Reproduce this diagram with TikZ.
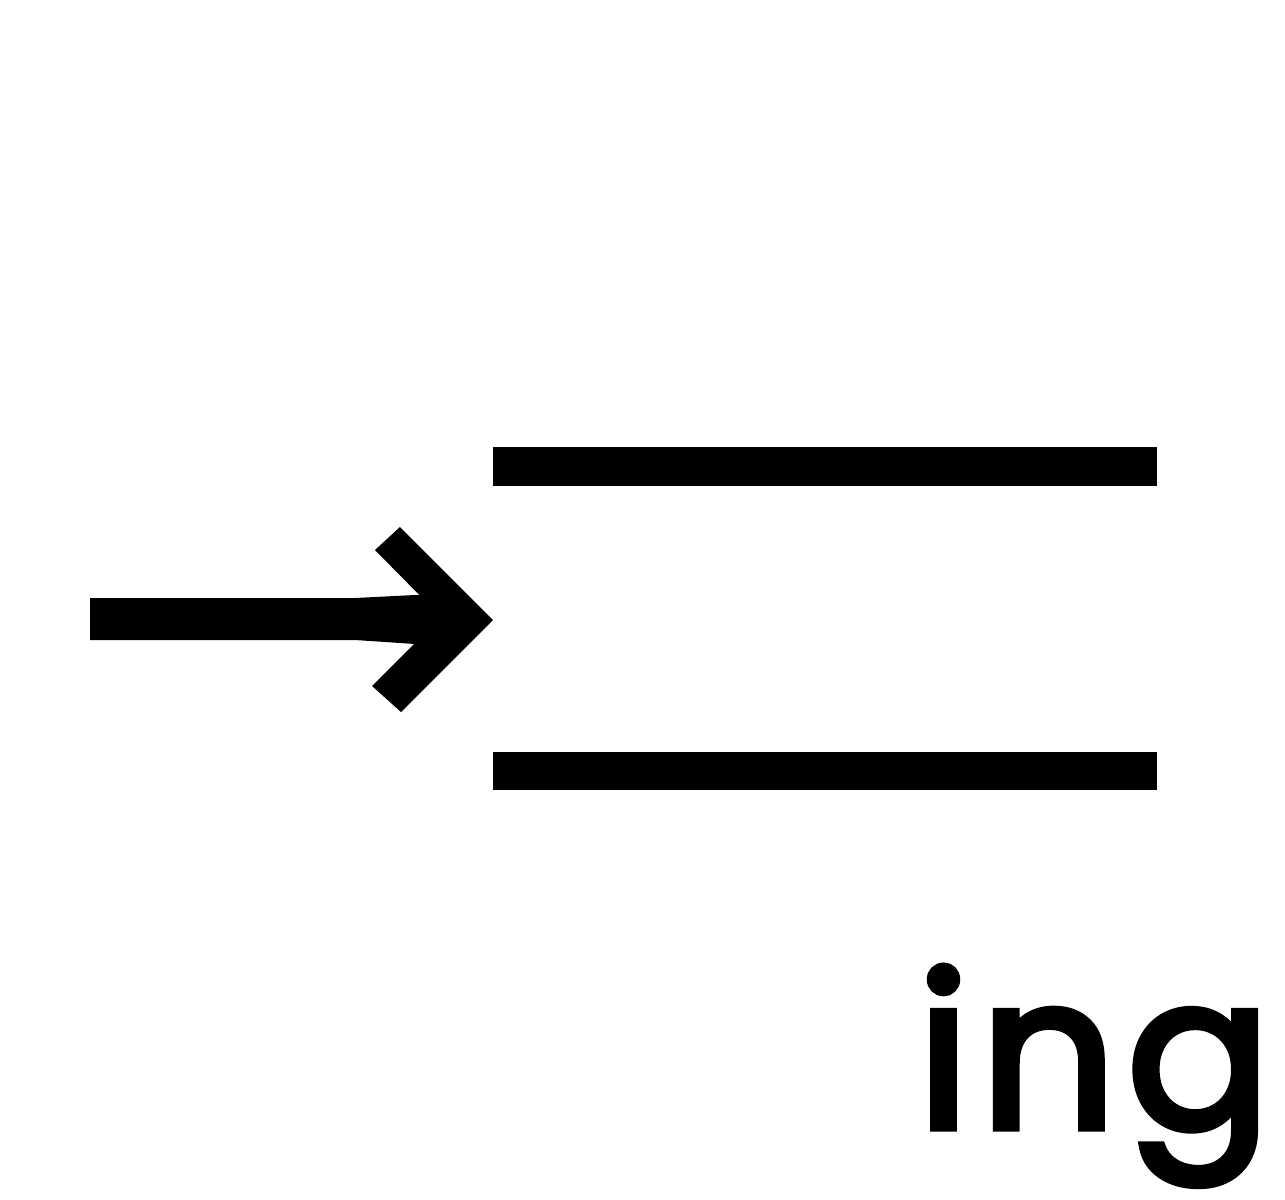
\documentclass[tikz,border=0pt]{standalone}
\usepackage{fontspec}
\setmainfont{Poppins}
\begin{document}
\begin{tikzpicture}[x=0.02cm,y=-0.02cm,
  ink/.style={fill=black,draw=none}]
\useasboundingbox[fill=white] (0,0) rectangle (1285,1200);
% bars
\fill[ink] (493,447) rectangle (1157,486);
\fill[ink] (493,752) rectangle (1157,790);
% arrow shaft
\fill[ink] (90,598) -- (355,598) -- (415,595) -- (450,595) -- (450,644) -- (415,644) -- (355,640) -- (90,640) -- cycle;
% arrow head
\fill[ink] (400,527) -- (493,620) -- (401,712) -- (372,686) -- (441,617) -- (375,550) -- cycle;
\node[anchor=base west,inner sep=0pt,font=\fontsize{121}{121}\selectfont\addfontfeatures{FakeBold=3.5,LetterSpace=5}] (lbl) at (917,1128) {ing};
\end{tikzpicture}
\end{document}
